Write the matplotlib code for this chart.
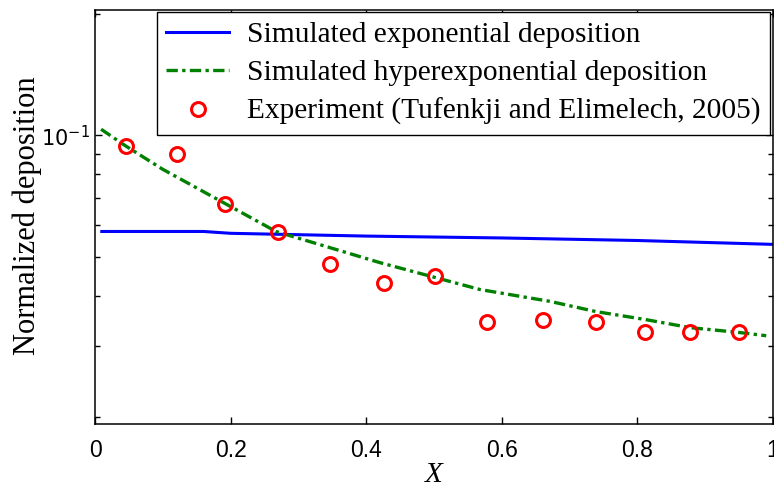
import matplotlib
matplotlib.use("Agg")
import matplotlib.pyplot as plt
from matplotlib.ticker import LogLocator, LogFormatterMathtext, NullFormatter

plt.rcParams["mathtext.fontset"] = "custom"
plt.rcParams["mathtext.rm"] = "Liberation Sans"
plt.rcParams["mathtext.it"] = "Liberation Sans:italic"
plt.rcParams["mathtext.default"] = "regular"
plt.rcParams["axes.unicode_minus"] = False

# ---- data ----
x_exp = [0.01, 0.16, 0.2, 0.4, 0.6, 0.8, 1.0]
y_exp = [0.0577, 0.0577, 0.0571, 0.0562, 0.0556, 0.0548, 0.0536]

x_hyp = [0.009, 0.046, 0.10, 0.189, 0.267, 0.42, 0.568, 0.671, 0.739, 0.811, 0.878, 0.95, 0.99]
y_hyp = [0.1035, 0.0939, 0.0823, 0.0681, 0.0577, 0.0483, 0.0414, 0.0387, 0.0365, 0.0349, 0.0333, 0.0324, 0.0318]

x_obs = [0.046, 0.121, 0.192, 0.270, 0.347, 0.426, 0.501, 0.578, 0.661, 0.739, 0.811, 0.878, 0.950]
y_obs = [0.0939, 0.0897, 0.0677, 0.0574, 0.0478, 0.0431, 0.0448, 0.0343, 0.0347, 0.0343, 0.0325, 0.0325, 0.0325]

x_ticks = [0, 0.2, 0.4, 0.6, 0.8, 1.0]
x_ticklabels = ["0", "0.2", "0.4", "0.6", "0.8", "1"]

labels = ["Simulated exponential deposition",
          "Simulated hyperexponential deposition",
          "Experiment (Tufenkji and Elimelech, 2005)"]

W, H = 774, 487
fig = plt.figure(figsize=(W / 100, H / 100), dpi=100)
ax = fig.add_axes([95 / W, 1 - 424 / H, (773 - 95) / W, (424 - 10) / H])

serif = "Liberation Serif"
sans = "Liberation Sans"

ax.plot(x_exp, y_exp, color="#0000ff", lw=2.2, label=labels[0])
ax.plot(x_hyp, y_hyp, color="#008000", lw=2.4, ls=(0, (3.4, 1.3, 1.0, 1.3)), label=labels[1])
ax.plot(x_obs, y_obs, ls="none", marker="o", ms=10, mfc="none", mec="#ff0000",
        mew=2.2, label=labels[2])

ax.set_yscale("log")
ax.set_xlim(0, 1)
ax.set_ylim(0.0192, 0.2046)
ax.set_xticks(x_ticks)
ax.set_xticklabels(x_ticklabels, fontfamily=sans)
ax.yaxis.set_major_locator(LogLocator(base=10, numticks=10))
ax.yaxis.set_major_formatter(LogFormatterMathtext())
ax.yaxis.set_minor_locator(LogLocator(base=10, subs=range(2, 10), numticks=20))
ax.yaxis.set_minor_formatter(NullFormatter())

ax.tick_params(which="both", direction="in", top=True, right=True)
ax.tick_params(axis="x", labelsize=16.5)
ax.tick_params(axis="y", labelsize=15)
ax.tick_params(which="major", length=5, width=1)
ax.tick_params(axis="x", which="major", pad=10.5)
ax.tick_params(axis="y", which="major", pad=4)
ax.tick_params(which="minor", length=3.5, width=1)
for s in ax.spines.values():
    s.set_linewidth(1.1)

fig.text(27 / W, 1 - 216 / H, "Normalized deposition", fontfamily=serif, fontsize=22,
         rotation=90, ha="center", va="center")
fig.text(434 / W, 1 - 475 / H, "X", fontfamily=serif, fontstyle="italic", fontsize=21,
         ha="center", va="center")

leg = ax.legend(loc="upper right", bbox_to_anchor=(770 / W, 1 - 12 / H),
                bbox_transform=fig.transFigure, borderaxespad=0,
                prop={"family": serif, "size": 21.2}, frameon=True, fancybox=False,
                edgecolor="black", framealpha=1, handlelength=2.15, handletextpad=0.6,
                labelspacing=0.4, borderpad=0.32, numpoints=1)
leg.get_frame().set_linewidth(1.0)

fig.savefig("out.png", dpi=100)
